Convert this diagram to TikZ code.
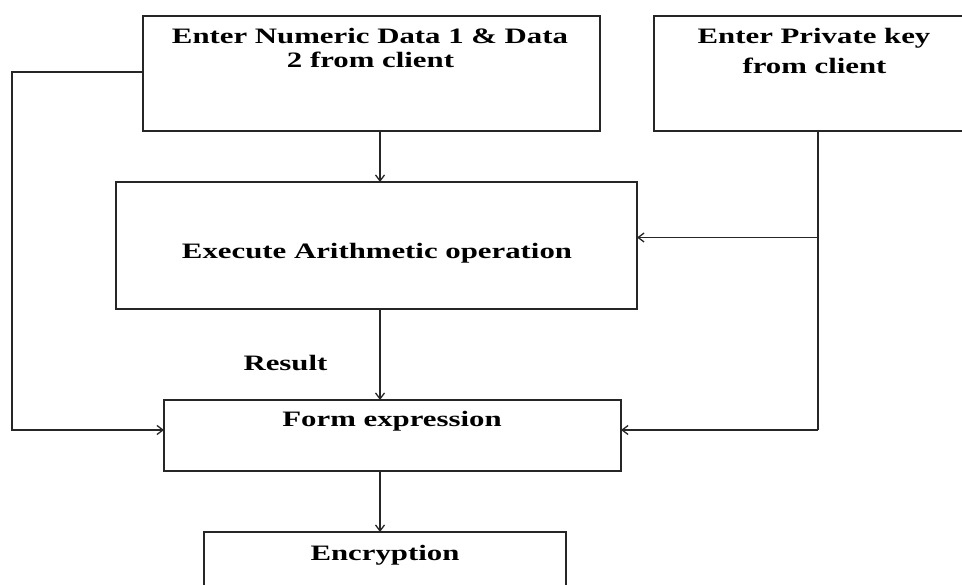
\documentclass[tikz,border=0pt]{standalone}
\usepackage{fontspec}
\usepackage{graphicx}
\setmainfont{Liberation Serif}
\usetikzlibrary{arrows.meta}
\newcommand\widetxt[1]{\scalebox{1.4}[1]{#1}}
\tikzset{
  box/.style={draw=black!85, line width=1.6pt, rectangle, inner sep=0pt, outer sep=0pt},
  txt/.style={anchor=base, inner sep=0pt, font=\fontsize{22}{26}\selectfont\bfseries},
  link/.style={draw=black!85, line width=1.5pt},
  arr/.style={link, -{Straight Barb[length=6pt,width=9pt,line width=1.3pt]}}
}
\begin{document}
\begin{tikzpicture}[x=1pt,y=-1pt]
  \useasboundingbox (0,0) rectangle (962,585);
  \clip (0,0) rectangle (962,585);
  \fill[white] (0,0) rectangle (962,585);

  % boxes
  \node[box, minimum width=457pt, minimum height=115pt] (data)    at (371.5,73.5)  {};
  \node[box, minimum width=326pt, minimum height=115pt] (key)     at (817,73.5)    {};
  \node[box, minimum width=521pt, minimum height=127pt] (arith)   at (376.5,245.5) {};
  \node[box, minimum width=457pt, minimum height=71pt]  (expr)    at (392.5,435.5) {};
  \node[box, minimum width=362pt, minimum height=80pt]  (encrypt) at (385,572)     {};

  % box texts
  \node[txt] (t1a) at (370,44)    {\widetxt{Enter Numeric Data 1 \& Data}};
  \node[txt] (t1b) at (370.5,68)  {\widetxt{2 from client}};
  \node[txt] (t2a) at (814,44)    {\widetxt{Enter Private key}};
  \node[txt] (t2b) at (814.5,74)  {\widetxt{from client}};
  \node[txt] (t3)  at (377,259)   {\widetxt{Execute Arithmetic operation}};
  \node[txt] (t4)  at (392,427)   {\widetxt{Form expression}};
  \node[txt] (t5)  at (385,560)   {\widetxt{Encryption}};
  \node[txt] (res) at (285.5,371) {\widetxt{Result}};

  % routing points
  \coordinate (dl)  at (data.west |- 0,72);
  \coordinate (kb)  at (818,131);
  \coordinate (kj)  at (818,237.5);
  \coordinate (kc)  at (818,430);
  \coordinate (lc)  at (12,430);

  % connectors
  \draw[arr] (data.south -| 380,0) -- (arith.north -| 380,0);
  \draw[arr] (arith.south -| 380,0) -- (expr.north -| 380,0);
  \draw[arr] (expr.south -| 380,0) -- (encrypt.north -| 380,0);
  \draw[arr] (dl) -- (12,72) -- (lc) -- (expr.west |- lc);
  \draw[link] (kb) -- (kc);
  \draw[arr] (kc) -- (expr.east |- kc);
  \draw[arr] (kj) -- (arith.east |- kj);
\end{tikzpicture}
\end{document}
